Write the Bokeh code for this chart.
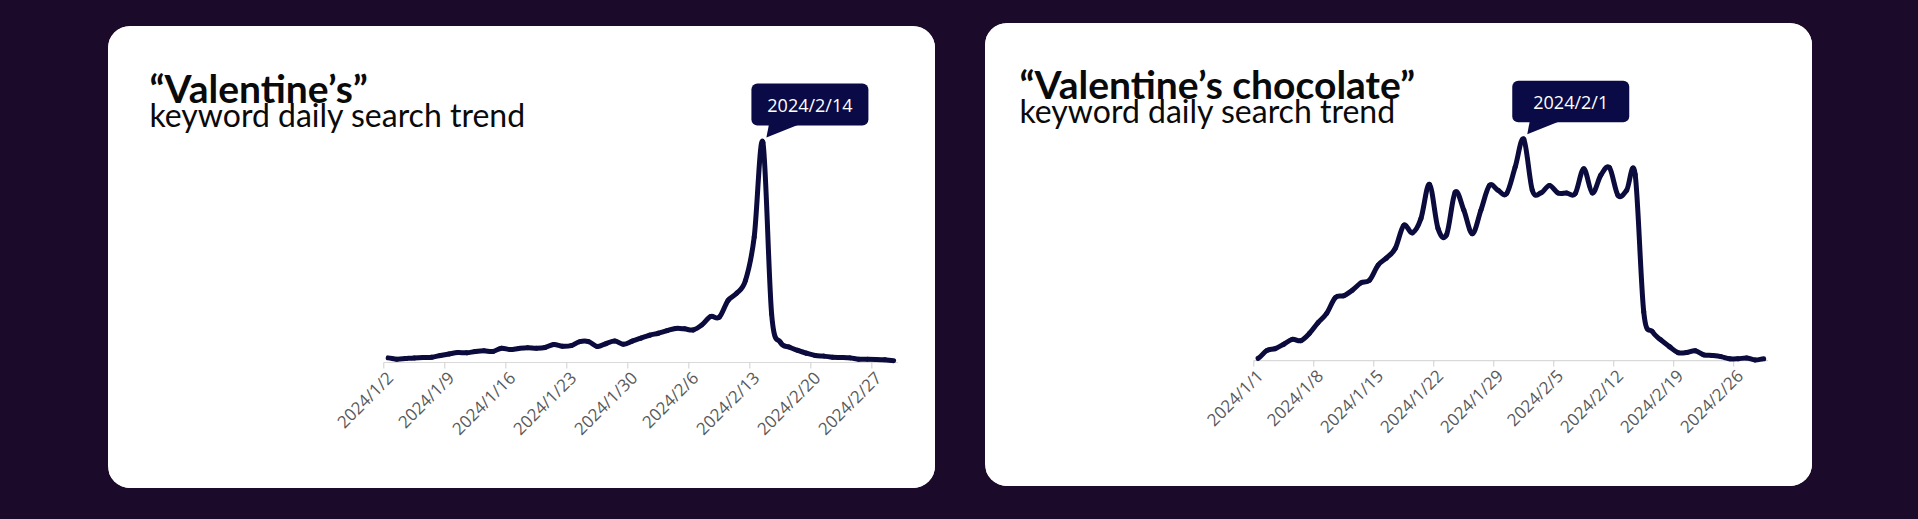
import numpy as np
import pandas as pd
from bokeh.plotting import figure
from bokeh.models import FixedTicker, Range1d, Label
from bokeh.layouts import row
from bokeh.embed import file_html
from bokeh.resources import INLINE
from bokeh.core.properties import value

# ---------------- data ----------------
titles = ["\u201cValentine\u2019s\u201d", "\u201cValentine\u2019s chocolate\u201d"]
subtitle = "keyword daily search trend"

start1 = "2024-01-02"
vals1 = [2.1, 1.5, 1.8, 2.1, 2.3, 2.4, 3.2, 3.9, 4.5, 4.4, 5.0, 5.3, 5.0, 6.5, 5.9,
         6.4, 6.7, 6.5, 6.8, 8.2, 7.4, 7.7, 9.5, 9.5, 7.3, 8.6, 9.8, 8.3, 9.7, 11.1,
         12.4, 13.3, 14.5, 15.5, 15.3, 14.8, 17.1, 20.9, 20.6, 28.2, 31.5, 37.3, 57.0,
         100.0, 22.0, 9.2, 7.0, 5.5, 4.2, 3.2, 2.9, 2.4, 2.3, 2.1, 1.5, 1.5, 1.4, 1.2, 0.8]
ticks1 = ["2024/1/2", "2024/1/9", "2024/1/16", "2024/1/23", "2024/1/30",
          "2024/2/6", "2024/2/13", "2024/2/20", "2024/2/27"]
peak1 = "2024/2/14"

start2 = "2024-01-01"
vals2 = [1.0, 4.5, 5.4, 7.4, 9.6, 9.0, 12.3, 17.1, 21.3, 28.4, 29.3, 31.8, 35.1, 36.3,
         43.1, 46.4, 50.6, 61.1, 57.7, 64.1, 79.6, 59.6, 56.9, 76.0, 68.0, 57.3, 67.9,
         79.1, 76.9, 75.4, 87.4, 100.0, 76.9, 75.7, 79.1, 75.7, 75.7, 75.4, 86.6, 75.7,
         83.8, 87.1, 74.6, 76.9, 84.1, 22.0, 13.1, 9.3, 6.3, 3.6, 3.6, 4.4, 2.6, 2.3,
         1.8, 0.8, 0.8, 1.2, 0.3, 0.8]
ticks2 = ["2024/1/1", "2024/1/8", "2024/1/15", "2024/1/22", "2024/1/29",
          "2024/2/5", "2024/2/12", "2024/2/19", "2024/2/26"]
peak2 = "2024/2/1"

# ---------------- style ----------------
BG = "#1b0a2a"
LINE = "#0c0b3d"
CALLOUT = "#0a0a46"
GRID = "#d9d9d9"
TICK = "#cfcfcf"
LABEL = "#595959"
BELOW = 7  # px of frame kept below the baseline for the tick marks


def fmt(d):
    return f"{d.year}/{d.month}/{d.day}"


def make_card(start, vals, tick_labels, peak_label, title, W, H, plot_left, plot_w,
              axis_y, ppu, title_x, title_base, sub_base):
    dates = pd.date_range(start, periods=len(vals), freq="D")
    labels = [fmt(d) for d in dates]
    n = len(vals)
    xs = np.arange(n) + 0.5
    ys = np.asarray(vals, dtype=float)
    ppd = plot_w / n
    x0, x1 = -plot_left / ppd, (W - plot_left) / ppd
    p = figure(width=W, height=H, output_backend="svg", toolbar_location=None,
               x_range=Range1d(x0, x1),
               y_range=Range1d(-BELOW / ppu, axis_y / ppu),
               min_border_left=0, min_border_right=0, min_border_top=0,
               min_border_bottom=H - axis_y - BELOW)
    p.background_fill_color = "white"
    p.border_fill_color = "white"
    p.outline_line_color = None
    p.grid.visible = False
    p.yaxis.visible = False
    p.styles = {"border-radius": "22px", "overflow": "hidden", "background": "white"}

    # category axis: labels sit under the category they name
    tick_pos = [labels.index(t) for t in tick_labels]
    label_pos = [tp + 0.7 for tp in tick_pos]
    ax = p.xaxis[0]
    ax.ticker = FixedTicker(ticks=label_pos)
    ax.major_label_overrides = {lp: t for lp, t in zip(label_pos, tick_labels)}
    ax.major_label_orientation = np.pi / 4
    ax.axis_line_color = None
    ax.major_tick_line_color = None
    ax.major_tick_out = 0
    ax.major_tick_in = 0
    ax.minor_tick_line_color = None
    ax.major_label_text_color = LABEL
    ax.major_label_text_font = "Open Sans"
    ax.major_label_text_font_size = "17px"
    ax.major_label_standoff = 5

    # baseline spanning the categories and tick marks at category boundaries
    p.segment(x0=[0], y0=[0], x1=[n], y1=[0], line_color=GRID, line_width=1.2)
    p.segment(x0=tick_pos, y0=[0] * len(tick_pos), x1=tick_pos,
              y1=[-6.0 / ppu] * len(tick_pos), line_color=TICK, line_width=1)

    # smoothed trend line: cubic Bezier segments through every data point
    prev_y = np.concatenate([[ys[0]], ys[:-1]])
    next_y = np.concatenate([ys[1:], [ys[-1]]])
    tang = (next_y - prev_y) / 6.0
    p.bezier(x0=xs[:-1], y0=ys[:-1], x1=xs[1:], y1=ys[1:],
             cx0=xs[:-1] + 1 / 3, cy0=ys[:-1] + tang[:-1],
             cx1=xs[1:] - 1 / 3, cy1=ys[1:] - tang[1:],
             line_color=LINE, line_width=5, line_cap="round")

    # callout attached to the peak
    pi = labels.index(peak_label)
    px, py = xs[pi], ys[pi]
    bl = px + (-11.5) / ppd
    br = px + (105.5) / ppd
    bb = py + 17.0 / ppu
    bt = py + 59.0 / ppu
    p.quad(left=[bl], right=[br], bottom=[bb], top=[bt], fill_color=CALLOUT,
           line_color=None, border_radius=6)
    p.patch([px + 3.5 / ppd, px + 6.0 / ppd, px + 36.0 / ppd],
            [py + 5.0 / ppu, bb + 1.0 / ppu, bb + 1.0 / ppu],
            fill_color=CALLOUT, line_color=None)
    p.text([(bl + br) / 2], [(bb + bt) / 2], text=[peak_label], text_align="center",
           text_baseline="middle", text_color="white", text_font=value("Open Sans"),
           text_font_size="18px")

    # titles (screen units relative to frame, y upward from frame bottom)
    p.add_layout(Label(x=title_x, y=axis_y + BELOW - title_base, x_units="screen",
                       y_units="screen", text=title, text_font="Lato",
                       text_font_style="bold", text_font_size="39px",
                       text_color="#0a0a0a", text_baseline="alphabetic"))
    p.add_layout(Label(x=title_x, y=axis_y + BELOW - sub_base, x_units="screen",
                       y_units="screen", text=subtitle, text_font="Lato",
                       text_font_size="32px", text_color="#0a0a0a",
                       text_baseline="alphabetic"))
    return p


p1 = make_card(start1, vals1, ticks1, peak1, titles[0], W=827, H=462,
               plot_left=275.3, plot_w=514.2, axis_y=336, ppu=2.2,
               title_x=41, title_base=61, sub_base=88)
p2 = make_card(start2, vals2, ticks2, peak2, titles[1], W=827, H=463,
               plot_left=268.3, plot_w=514.2, axis_y=341, ppu=2.24,
               title_x=34, title_base=64, sub_base=91)
p1.margin = (26, 0, 0, 108)
p2.margin = (23, 0, 0, 50)

layout = row(p1, p2)
html = file_html(layout, INLINE)
html = html.replace("</head>",
                    "<style>html,body{margin:0;padding:0;background:%s;}</style></head>" % BG, 1)
open("out.html", "w").write(html)
